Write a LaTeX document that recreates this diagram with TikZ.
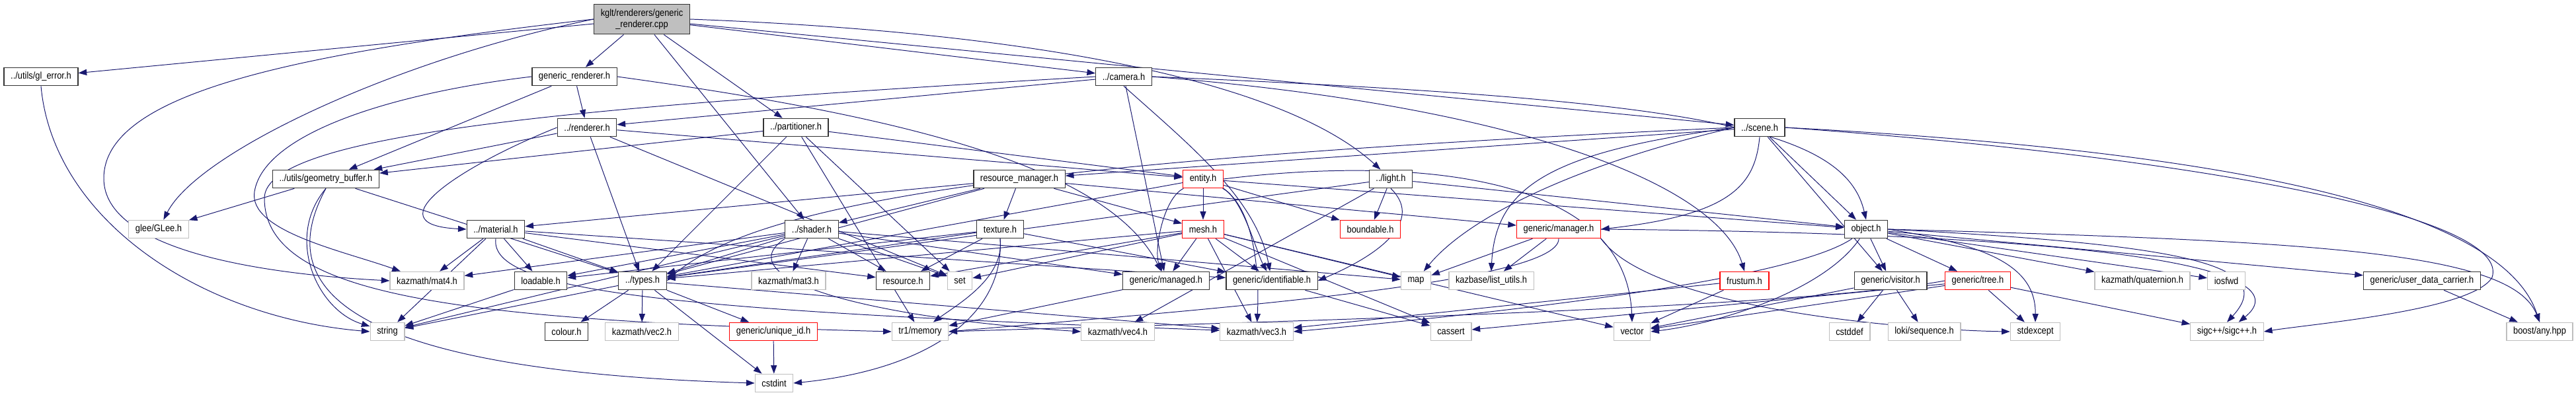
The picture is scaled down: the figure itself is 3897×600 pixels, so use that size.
\documentclass[tikz,border=0pt]{standalone}
\usepackage{fontspec}
\setmainfont{Liberation Sans}[FakeStretch=0.88]
\usepackage{xcolor}
\usepackage{tikz}
\usetikzlibrary{arrows.meta, positioning, backgrounds}
\definecolor{edgeblue}{RGB}{25,25,112}

\begin{document}
\begin{tikzpicture}[x=0.025cm, y=-0.025cm,
  font=\fontsize{10.4pt}{12pt}\selectfont,
  file/.style={draw=black!80, line width=0.9pt, fill=white, minimum height=19.5pt, inner xsep=7.2pt, inner ysep=0pt},
  undoc/.style={file, draw=red},
  sys/.style={file, draw=black!25},
  root/.style={file, fill=black!25, align=center, minimum height=32.5pt},
  dep/.style={edgeblue, line width=0.7pt, -{Triangle[length=9pt, width=6.5pt]}}]

\useasboundingbox (0,0) rectangle (3897,600);

% Define nodes
\node[root] (cpp) at (971,29) {kglt/renderers/generic\\\_renderer.cpp};

\node[file] (glerror) at (62,116) {../utils/gl\_error.h};
\node[file] (genrend) at (869,116) {generic\_renderer.h};
\node[file] (camera) at (1700,116) {../camera.h};

\node[file] (renderer) at (888,193) {../renderer.h};
\node[file] (partitioner) at (1204,193) {../partitioner.h};
\node[file] (scene) at (2662,193) {../scene.h};

\node[file] (geombuf) at (493,271) {../utils/geometry\_buffer.h};
\node[file] (resmgr) at (1542,271) {resource\_manager.h};
\node[undoc] (entity) at (1820,271) {entity.h};
\node[file] (light) at (2104,271) {../light.h};

\node[sys] (glee) at (240,347) {glee/GLee.h};
\node[file] (material) at (750,347) {../material.h};
\node[file] (shader) at (1228,347) {../shader.h};
\node[file] (texture) at (1513,347) {texture.h};
\node[undoc] (mesh) at (1820,347) {mesh.h};
\node[undoc] (boundable) at (2073,347) {boundable.h};
\node[undoc] (manager) at (2358,347) {generic/manager.h};
\node[file] (object) at (2823,347) {object.h};

\node[sys] (mat4) at (646,425) {kazmath/mat4.h};
\node[file] (loadable) at (818,425) {loadable.h};
\node[file] (types) at (972,425) {../types.h};
\node[sys] (mat3) at (1193,425) {kazmath/mat3.h};
\node[file] (resource) at (1366,425) {resource.h};
\node[sys] (set) at (1452,425) {set};
\node[file] (managed) at (1764,425) {generic/managed.h};
\node[file] (identifiable) at (1924,425) {generic/identifiable.h};
\node[sys] (map) at (2142,425) {map};
\node[sys] (listutils) at (2256,425) {kazbase/list\_utils.h};
\node[undoc] (frustum) at (2639,425) {frustum.h};
\node[file] (visitor) at (2860,425) {generic/visitor.h};
\node[undoc] (tree) at (2992,425) {generic/tree.h};
\node[sys] (quaternion) at (3241,425) {kazmath/quaternion.h};
\node[sys] (iosfwd) at (3368,425) {iosfwd};
\node[file] (userdata) at (3664,425) {generic/user\_data\_carrier.h};

\node[sys] (string) at (586,502) {string};
\node[file] (colour) at (857,502) {colour.h};
\node[sys] (vectwo) at (971,502) {kazmath/vec2.h};
\node[undoc] (uniqueid) at (1170,502) {generic/unique\_id.h};
\node[sys] (memory) at (1392,502) {tr1/memory};
\node[sys] (vecfour) at (1691,502) {kazmath/vec4.h};
\node[sys] (vecthree) at (1901,502) {kazmath/vec3.h};
\node[sys] (cassert) at (2195,502) {cassert};
\node[sys] (vector) at (2469,502) {vector};
\node[sys] (cstddef) at (2798,502) {cstddef};
\node[sys] (loki) at (2911,502) {loki/sequence.h};
\node[sys] (stdexcept) at (3079,502) {stdexcept};
\node[sys] (sigc) at (3369,502) {sigc++/sigc++.h};
\node[sys] (boostany) at (3842,502) {boost/any.hpp};

\node[sys] (cstdint) at (1171,580) {cstdint};

\begin{scope}[on background layer]
% Includes of the source file
\draw[dep] (cpp) -- (glerror);
\draw[dep] (cpp.west) .. controls (600,90) and (300,230) .. (glee);
\draw[dep] (cpp.west) .. controls (450,80) and (157,140) .. (157,270) .. controls (157,380) and (400,415) .. (mat4.west);
\draw[dep] (cpp) -- (genrend);
\draw[dep] (cpp) -- (shader);
\draw[dep] (cpp) -- (partitioner);
\draw[dep] (cpp) -- (camera);
\draw[dep] (cpp.east) .. controls (1600,50) and (1950,130) .. (light);
\draw[dep] (cpp) -- (scene);

\draw[dep] (glerror.south) .. controls (80,330) and (300,480) .. (string.west);

% Renderer headers
\draw[dep] (genrend) -- (renderer);
\draw[dep] (genrend) -- (geombuf);
\draw[dep] (genrend.west) .. controls (600,140) and (400,200) .. (385,290) .. controls (375,350) and (520,380) .. (mat4);
\draw[dep] (genrend.east) .. controls (1400,180) and (1680,260) .. (managed);

\draw[dep] (renderer) -- (geombuf);
\draw[dep] (renderer) -- (types);
\draw[dep] (renderer) -- (set);
\draw[dep] (renderer) -- (entity);
\draw[dep] (renderer.west) .. controls (700,250) and (560,340) .. (material.west);

\draw[dep] (partitioner) -- (geombuf);
\draw[dep] (partitioner) -- (types);
\draw[dep] (partitioner) -- (set);
\draw[dep] (partitioner) -- (entity);
\draw[dep] (partitioner) -- (memory);

\draw[dep] (geombuf) -- (glee);
\draw[dep] (geombuf) -- (types);
\draw[dep] (geombuf.south) .. controls (430,360) and (480,470) .. (string);
\draw[dep] (geombuf.south) .. controls (420,420) and (480,560) .. (cstdint.west);

% Camera and scene
\draw[dep] (camera) -- (renderer);
\draw[dep] (camera.west) .. controls (900,160) and (400,200) .. (400,300) .. controls (400,450) and (700,485) .. (memory.west);
\draw[dep] (camera.east) .. controls (2550,150) and (2790,190) .. (object.north);
\draw[dep] (camera.east) .. controls (2300,160) and (2600,280) .. (frustum.north);
\draw[dep] (camera) -- (managed);
\draw[dep] (camera.south) .. controls (1800,220) and (1900,300) .. (identifiable);

\draw[dep] (scene) -- (resmgr);
\draw[dep] (scene) -- (object);
\draw[dep] (scene) -- (visitor);
\draw[dep] (scene.south) .. controls (2655,280) and (2620,325) .. (manager.east);
\draw[dep] (scene.west) .. controls (2380,250) and (2220,330) .. (map);
\draw[dep] (scene.west) .. controls (2350,230) and (2262,280) .. (listutils.north);
\draw[dep] (scene.west) .. controls (1600,240) and (1150,300) .. (types.east);
\draw[dep] (scene.east) .. controls (3300,225) and (3780,300) .. (boostany.north);
\draw[dep] (scene.east) .. controls (3350,240) and (3800,330) .. (3770,420) .. controls (3740,470) and (3500,490) .. (sigc.east);

% Resources
\draw[dep] (resmgr) -- (material);
\draw[dep] (resmgr) -- (shader);
\draw[dep] (resmgr) -- (texture);
\draw[dep] (resmgr) -- (mesh);
\draw[dep] (resmgr) -- (manager);
\draw[dep] (resmgr) -- (types);

\draw[dep] (entity) -- (mesh);
\draw[dep] (entity) -- (boundable);
\draw[dep] (entity) -- (object);
\draw[dep] (entity) .. controls (1760,300) and (1745,380) .. (managed);
\draw[dep] (entity) .. controls (1880,300) and (1900,380) .. (identifiable);
\draw[dep] (entity) -- (types);
\draw[dep] (entity.south east) .. controls (1900,320) and (1905,420) .. (vecthree);
\draw[dep] (entity.east) .. controls (2100,240) and (2460,250) .. (vector.north);

\draw[dep] (light) -- (boundable);
\draw[dep] (light.south) .. controls (2150,330) and (2100,380) .. (identifiable.east);
\draw[dep] (light) -- (object);
\draw[dep] (light) -- (types);
\draw[dep] (light) -- (vecfour);

\draw[dep] (material) -- (mat4);
\draw[dep] (material) -- (loadable);
\draw[dep] (material) -- (types);
\draw[dep] (material) -- (resource);
\draw[dep] (material) -- (identifiable);
\draw[dep] (material) -- (string);
\draw[dep] (material.south) .. controls (740,440) and (1000,470) .. (vecthree);

\draw[dep] (shader) -- (mat4);
\draw[dep] (shader) -- (loadable);
\draw[dep] (shader) -- (types);
\draw[dep] (shader) -- (mat3);
\draw[dep] (shader) -- (resource);
\draw[dep] (shader) -- (managed);
\draw[dep] (shader) -- (map);
\draw[dep] (shader) -- (string);
\draw[dep] (shader) -- (set);
\draw[dep] (shader.south west) .. controls (1100,420) and (1300,480) .. (vecfour.west);

\draw[dep] (texture) -- (loadable);
\draw[dep] (texture) -- (types);
\draw[dep] (texture) -- (resource);
\draw[dep] (texture) -- (identifiable);
\draw[dep] (texture.south) .. controls (1520,420) and (1450,460) .. (memory);
\draw[dep] (texture.south) .. controls (1520,480) and (1400,560) .. (cstdint.east);

\draw[dep] (mesh) -- (types);
\draw[dep] (mesh) -- (set);
\draw[dep] (mesh) -- (managed);
\draw[dep] (mesh) -- (identifiable);
\draw[dep] (mesh) -- (map);
\draw[dep] (mesh) -- (vector);
\draw[dep] (mesh) -- (cassert);
\draw[dep] (mesh) -- (vecthree);
\draw[dep] (mesh) -- (resource);

\draw[dep] (manager) -- (map);
\draw[dep] (manager) -- (listutils);
\draw[dep] (manager.south) .. controls (2360,430) and (1800,470) .. (memory.east);
\draw[dep] (manager.south east) .. controls (2500,470) and (2900,500) .. (stdexcept.west);
\draw[dep] (manager.east) .. controls (3300,355) and (3470,420) .. (sigc);

% Objects and generics
\draw[dep] (object) -- (visitor);
\draw[dep] (object) -- (tree);
\draw[dep] (object) -- (quaternion);
\draw[dep] (object) -- (iosfwd);
\draw[dep] (object) -- (userdata);
\draw[dep] (object.east) .. controls (3300,370) and (3450,400) .. (sigc.north);
\draw[dep] (object.east) .. controls (3500,365) and (3800,380) .. (boostany.north);
\draw[dep] (object.east) .. controls (3000,370) and (3080,400) .. (stdexcept.north);
\draw[dep] (object) .. controls (2700,430) and (2200,480) .. (vecthree.east);
\draw[dep] (object) .. controls (2760,440) and (2600,490) .. (vector.east);

\draw[dep] (frustum) -- (vector);
\draw[dep] (frustum) -- (vecthree);

\draw[dep] (visitor) -- (cstddef);
\draw[dep] (visitor) -- (loki);
\draw[dep] (visitor) -- (vector);

\draw[dep] (tree) -- (stdexcept);
\draw[dep] (tree) -- (sigc);
\draw[dep] (tree) -- (vector);
\draw[dep] (tree) -- (cassert);
\draw[dep] (tree.west) .. controls (2700,470) and (1800,490) .. (memory.east);

\draw[dep] (userdata) -- (boostany);

\draw[dep] (types) -- (colour);
\draw[dep] (types) -- (vectwo);
\draw[dep] (types) -- (uniqueid);
\draw[dep] (types) -- (cstdint);
\draw[dep] (types) -- (string);
\draw[dep] (types) -- (vecthree);

\draw[dep] (uniqueid) -- (cstdint);
\draw[dep] (managed) -- (memory);
\draw[dep] (loadable) -- (string);
\draw[dep] (identifiable) -- (cassert);
\end{scope}

\end{tikzpicture}
\end{document}
